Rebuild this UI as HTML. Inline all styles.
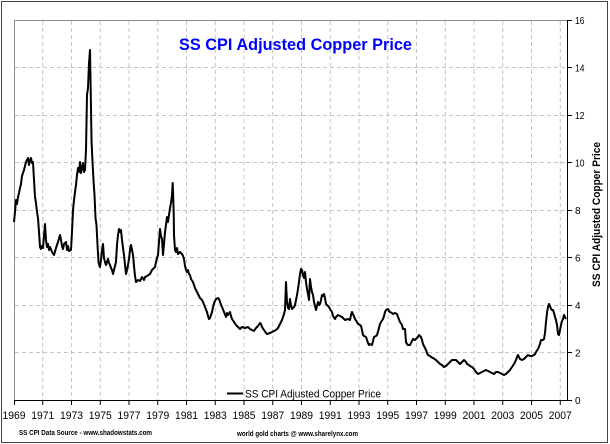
<!DOCTYPE html>
<html>
<head>
<meta charset="utf-8">
<style>
html,body{margin:0;padding:0;background:#fff;}
svg{display:block;}
</style>
</head>
<body>
<svg xmlns="http://www.w3.org/2000/svg" width="610" height="444" viewBox="0 0 610 444">
<rect x="0" y="0" width="610" height="444" fill="#fff"/>
<rect x="1.5" y="1.5" width="606" height="441" fill="none" stroke="#444" stroke-width="1"/>

<!-- grid -->
<g stroke="#c4c4c4" stroke-width="1" stroke-dasharray="4,3" fill="none">
<line x1="42.75" y1="21" x2="42.75" y2="400"/>
<line x1="71.5" y1="21" x2="71.5" y2="400"/>
<line x1="100.25" y1="21" x2="100.25" y2="400"/>
<line x1="129" y1="21" x2="129" y2="400"/>
<line x1="157.75" y1="21" x2="157.75" y2="400"/>
<line x1="186.5" y1="21" x2="186.5" y2="400"/>
<line x1="215.25" y1="21" x2="215.25" y2="400"/>
<line x1="244" y1="21" x2="244" y2="400"/>
<line x1="272.75" y1="21" x2="272.75" y2="400"/>
<line x1="301.5" y1="21" x2="301.5" y2="400"/>
<line x1="330.25" y1="21" x2="330.25" y2="400"/>
<line x1="359" y1="21" x2="359" y2="400"/>
<line x1="387.75" y1="21" x2="387.75" y2="400"/>
<line x1="416.5" y1="21" x2="416.5" y2="400"/>
<line x1="445.25" y1="21" x2="445.25" y2="400"/>
<line x1="474" y1="21" x2="474" y2="400"/>
<line x1="502.75" y1="21" x2="502.75" y2="400"/>
<line x1="531.5" y1="21" x2="531.5" y2="400"/>
<line x1="560.25" y1="21" x2="560.25" y2="400"/>
<line x1="15" y1="67.5" x2="567" y2="67.5"/>
<line x1="15" y1="115.5" x2="567" y2="115.5"/>
<line x1="15" y1="162.5" x2="567" y2="162.5"/>
<line x1="15" y1="210.5" x2="567" y2="210.5"/>
<line x1="15" y1="257.5" x2="567" y2="257.5"/>
<line x1="15" y1="305.5" x2="567" y2="305.5"/>
<line x1="15" y1="352.5" x2="567" y2="352.5"/>
</g>

<!-- plot frame -->
<line x1="14.5" y1="20" x2="14.5" y2="400" stroke="#8c8c8c" stroke-width="1"/>
<line x1="14" y1="20.5" x2="567" y2="20.5" stroke="#8c8c8c" stroke-width="1"/>
<line x1="14" y1="400.5" x2="567.5" y2="400.5" stroke="#000" stroke-width="1"/>
<line x1="567.5" y1="20" x2="567.5" y2="401" stroke="#000" stroke-width="1"/>

<!-- ticks -->
<g stroke="#000" stroke-width="1">
<line x1="14.5" y1="400" x2="14.5" y2="405"/>
<line x1="42.75" y1="400" x2="42.75" y2="405"/>
<line x1="71.5" y1="400" x2="71.5" y2="405"/>
<line x1="100.25" y1="400" x2="100.25" y2="405"/>
<line x1="129" y1="400" x2="129" y2="405"/>
<line x1="157.75" y1="400" x2="157.75" y2="405"/>
<line x1="186.5" y1="400" x2="186.5" y2="405"/>
<line x1="215.25" y1="400" x2="215.25" y2="405"/>
<line x1="244" y1="400" x2="244" y2="405"/>
<line x1="272.75" y1="400" x2="272.75" y2="405"/>
<line x1="301.5" y1="400" x2="301.5" y2="405"/>
<line x1="330.25" y1="400" x2="330.25" y2="405"/>
<line x1="359" y1="400" x2="359" y2="405"/>
<line x1="387.75" y1="400" x2="387.75" y2="405"/>
<line x1="416.5" y1="400" x2="416.5" y2="405"/>
<line x1="445.25" y1="400" x2="445.25" y2="405"/>
<line x1="474" y1="400" x2="474" y2="405"/>
<line x1="502.75" y1="400" x2="502.75" y2="405"/>
<line x1="531.5" y1="400" x2="531.5" y2="405"/>
<line x1="560.25" y1="400" x2="560.25" y2="405"/>
<line x1="567" y1="20.5" x2="572" y2="20.5"/>
<line x1="567" y1="67.5" x2="572" y2="67.5"/>
<line x1="567" y1="115.5" x2="572" y2="115.5"/>
<line x1="567" y1="162.5" x2="572" y2="162.5"/>
<line x1="567" y1="210.5" x2="572" y2="210.5"/>
<line x1="567" y1="257.5" x2="572" y2="257.5"/>
<line x1="567" y1="305.5" x2="572" y2="305.5"/>
<line x1="567" y1="352.5" x2="572" y2="352.5"/>
<line x1="567" y1="400.5" x2="572" y2="400.5"/>
</g>

<!-- y labels -->
<g font-family="Liberation Sans, Arial, sans-serif" font-size="10" fill="#000">
<text x="575" y="24" textLength="9.5" lengthAdjust="spacingAndGlyphs">16</text>
<text x="575" y="71.5" textLength="9.5" lengthAdjust="spacingAndGlyphs">14</text>
<text x="575" y="119" textLength="9.5" lengthAdjust="spacingAndGlyphs">12</text>
<text x="575" y="166.5" textLength="9.5" lengthAdjust="spacingAndGlyphs">10</text>
<text x="575" y="214">8</text>
<text x="575" y="261.5">6</text>
<text x="575" y="309">4</text>
<text x="575" y="356.5">2</text>
<text x="575" y="404">0</text>
</g>

<!-- x labels -->
<g font-family="Liberation Sans, Arial, sans-serif" font-size="11" fill="#000" text-anchor="middle">
<text x="14" y="419" textLength="23" lengthAdjust="spacingAndGlyphs">1969</text>
<text x="42.75" y="419" textLength="23" lengthAdjust="spacingAndGlyphs">1971</text>
<text x="71.5" y="419" textLength="23" lengthAdjust="spacingAndGlyphs">1973</text>
<text x="100.25" y="419" textLength="23" lengthAdjust="spacingAndGlyphs">1975</text>
<text x="129" y="419" textLength="23" lengthAdjust="spacingAndGlyphs">1977</text>
<text x="157.75" y="419" textLength="23" lengthAdjust="spacingAndGlyphs">1979</text>
<text x="186.5" y="419" textLength="23" lengthAdjust="spacingAndGlyphs">1981</text>
<text x="215.25" y="419" textLength="23" lengthAdjust="spacingAndGlyphs">1983</text>
<text x="244" y="419" textLength="23" lengthAdjust="spacingAndGlyphs">1985</text>
<text x="272.75" y="419" textLength="23" lengthAdjust="spacingAndGlyphs">1987</text>
<text x="301.5" y="419" textLength="23" lengthAdjust="spacingAndGlyphs">1989</text>
<text x="330.25" y="419" textLength="23" lengthAdjust="spacingAndGlyphs">1991</text>
<text x="359" y="419" textLength="23" lengthAdjust="spacingAndGlyphs">1993</text>
<text x="387.75" y="419" textLength="23" lengthAdjust="spacingAndGlyphs">1995</text>
<text x="416.5" y="419" textLength="23" lengthAdjust="spacingAndGlyphs">1997</text>
<text x="445.25" y="419" textLength="23" lengthAdjust="spacingAndGlyphs">1999</text>
<text x="474" y="419" textLength="23" lengthAdjust="spacingAndGlyphs">2001</text>
<text x="502.75" y="419" textLength="23" lengthAdjust="spacingAndGlyphs">2003</text>
<text x="531.5" y="419" textLength="23" lengthAdjust="spacingAndGlyphs">2005</text>
<text x="560.25" y="419" textLength="23" lengthAdjust="spacingAndGlyphs">2007</text>
</g>

<!-- title -->
<text x="179" y="50" font-family="Liberation Sans, Arial, sans-serif" font-size="16.5" font-weight="bold" fill="#0000ff" textLength="233" lengthAdjust="spacingAndGlyphs">SS CPI Adjusted Copper Price</text>

<!-- right axis title -->
<text transform="translate(600,214.5) rotate(-90)" text-anchor="middle" font-family="Liberation Sans, Arial, sans-serif" font-size="11" font-weight="bold" fill="#000" textLength="145" lengthAdjust="spacingAndGlyphs">SS CPI Adjusted Copper Price</text>

<!-- legend -->
<line x1="227" y1="393.5" x2="243" y2="393.5" stroke="#000" stroke-width="2"/>
<text x="245" y="397.5" font-family="Liberation Sans, Arial, sans-serif" font-size="11" fill="#000" textLength="136" lengthAdjust="spacingAndGlyphs">SS CPI Adjusted Copper Price</text>

<!-- footers -->
<text x="19" y="435" font-family="Liberation Sans, Arial, sans-serif" font-size="7" font-weight="bold" fill="#000" textLength="133" lengthAdjust="spacingAndGlyphs">SS CPI Data Source - www.shadowstats.com</text>
<text x="237" y="436" font-family="Liberation Sans, Arial, sans-serif" font-size="7" font-weight="bold" fill="#000" textLength="121" lengthAdjust="spacingAndGlyphs">world gold charts @ www.sharelynx.com</text>

<!-- data series -->
<polyline fill="none" stroke="#000" stroke-width="2" stroke-linejoin="round" points="
14,222 15,212 16,200 17,204 18,197 19,193 20,188 21,184 22,176 23,173 24,170 25,166 26,162 27,160 28,158 29,165 30,160 31,158 32,163 33,162 34,180 35,197 36,203 37,212 38,218 39,232 40,247 41,249 42,246 43,248 44,236 45,224 46,240 47,247 48,244 49,250 50,247 52,252 54,255 56,248 58,242 60,235 61,240 62,246 63,249 64,244 66,242 67,250 68,246 69,251 71,250 72,232 73,210 74,200 75,192 76,185 77,175 78,168 79,172 80,162 81,173 82,168 83,163 84,172 85,170 86,150 87,95 88,88 89,63 90,50 90.7,90 91.5,140 92.5,162 93.5,180 94.5,195 95.5,218 96.5,225 97.5,245 98.5,262 99.5,266 100,267 101,260 102,250 103,244 104,258 105,262 106,265 107,262 108,259 109,263 110,265 111,268 112,270 113,274 114,270 115,266 116,262 117,245 118,235 119,229 120,232 121,230 122,240 123,248 124,255 125,265 126,274 127,270 128,265 129,259 130,250 131,245 132,250 133,255 134,266 135,276 136,282 138,280 140,281 142,277 144,280 145,277 147,276 150,274 152,270 155,267 156,262 157,258 158,255 159,242 160,229 161,236 162,239 163,255 164,244 165,232 166,225 167,217 168,222 169.3,213 170,208 171,203 172,195 172.7,183 173.3,200 173.7,213 174,235 175,250 176,252 177,248 178,254 180,252 182,254 183,256 184,259 185,266 186,270 187,272 188,270 189,274 190,275 191,279 193,282 195,288 197,292 198,294 200,298 202,300 203,302 205,307 207,312 208,316 209,319 210,318 211,315 212,312 214,303 216,299 218,298 219,299 220,302 222,307 224,312 226,317 227,313 228,315 230,312 231,316 232,319 234,322 236,325 238,327 240,329 242,327 245,328 248,327 250,329 252,330 254,331 256,328 258,326 260,323 261,324 262,327 264,330 266,333 267,334 270,333 272,332 274,331 276,330 278,328 280,324 282,320 283,317 284,314 285,310 286,282 287,302 288,308 289,309 290,299 291,305 292,309 294,307 295,305 296,300 297,295 298,289 299,282 300,274 301,269 302,270 303,275 304,278 305,272 306,282 307,289 308,294 309,300 310,279 311,287 312,292 313,295 314,302 315,306 316,310 317,306 318,302 319,305 320,304 321,300 322,295 323,296 324,294 325,298 326,304 327,305 329,307 330,309 332,312 333,316 335,319 336,317 338,315 340,316 342,317 344,319 345,320 348,319 350,320 351,315 352,312 353,314 355,319 357,322 358,324 360,325 361,326 362,330 363,335 364,336 366,337 367,340 368,343 369,345 370,344 372,345 373,341 374,337 376,336 377,335 379,328 380,324 381,322 383,319 384,316 385,312 386,310 388,309 389,311 390,312 392,313 393,314 395,313 397,314 398,317 400,322 402,325 403,329 405,329 406,342 407,344 408,345 410,345 411,343 412,341 413,339 415,340 416,339 418,337 419,335 420,336 421,337 422,340 423,344 424,346 425,348 426,350 427,353 428,355 430,356 431,357 433,358 436,360 438,362 440,364 442,365 444,367 446,366 448,364 450,362 452,360 454,360 456,360 458,362 460,364 462,362 464,360 466,362 467,364 469,365 470,366 472,367 474,369 476,372 478,374 480,373 482,372 484,371 486,370 488,371 490,372 492,373 494,374 496,372 498,372 500,373 502,374 504,375 506,374 508,372 510,370 512,367 514,364 516,360 517,357 518,355 519,357 520,359 522,360 524,359 526,357 528,355 530,356 532,356 534,355 535,354 536,352 538,349 540,344 541,340 543,340 544,339 545,333 546,322 547,313 548,307 549,304 550,306 551,309 552,310 553,310 554,313 555,317 556,320 557,325 558,334 559,335 560,330 561,325 562,321 563,319 564,315 565,317 566,319"/>
</svg>
</body>
</html>
